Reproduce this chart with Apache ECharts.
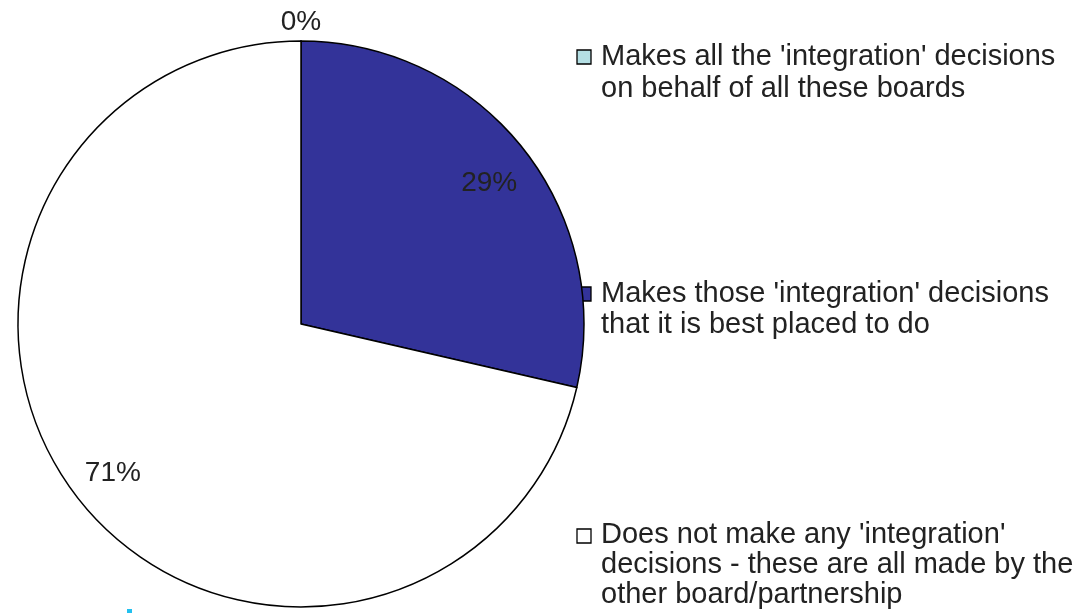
<!DOCTYPE html>
<html>
<head>
<meta charset="utf-8">
<script src="https://cdn.jsdelivr.net/npm/echarts@6/dist/echarts.min.js"></script>
<style>
html,body{margin:0;padding:0;background:#fff;}
#chart{width:1082px;height:613px;}
</style>
</head>
<body>
<div id="chart"></div>
<script>
// ---- data ----
var categories = [
  "Makes all the 'integration' decisions\non behalf of all these boards",
  "Makes those 'integration' decisions\nthat it is best placed to do",
  "Does not make any 'integration'\ndecisions - these are all made by the\nother board/partnership"
];
var values = [0, 28.6, 71.4];
var colors = ['#b4dfe4', '#333399', '#ffffff'];

// ---- layout ----
var CX = 301, CY = 324, R = 283;
var FONT = "'Liberation Sans', Arial, Helvetica, sans-serif";
var TEXT = '#222222';
var legendTop = [41, 278, 520];
var legendLH = [32, 31, 30];
var labelGap = [6, 18, 0];   // blank space above each slice label (style)

var chart = echarts.init(document.getElementById('chart'), null, {renderer: 'canvas'});

var mainData = categories.map(function (c, i) {
  return {name: c, value: values[i], itemStyle: {color: colors[i]}};
});
var innerLabelData = categories.map(function (c, i) {
  return {name: c, value: values[i], label: {show: values[i] > 0}};
});
var outerLabelData = categories.map(function (c, i) {
  return {name: c, value: values[i], label: {show: values[i] === 0}};
});

var rich = {v: {fontFamily: FONT, fontSize: 28, color: TEXT, lineHeight: 32}};
labelGap.forEach(function (g, i) {
  rich['g' + i] = {fontSize: 1, lineHeight: g, height: g};
});

var labelStyle = {
  position: 'inside',
  formatter: function (p) {
    var txt = '{v|' + p.percent + '%}';
    return labelGap[p.dataIndex] > 0 ? '{g' + p.dataIndex + '| }\n' + txt : txt;
  },
  fontFamily: FONT,
  fontSize: 28,
  color: TEXT,
  rich: rich
};

var graphics = [];
categories.forEach(function (c, i) {
  graphics.push({
    type: 'rect',
    shape: {x: 577, y: legendTop[i] + 26 - 10 - 7, width: 14, height: 14},
    style: {fill: colors[i], stroke: '#000', lineWidth: 1.3}
  });
  graphics.push({
    type: 'text',
    x: 601,
    y: legendTop[i],
    style: {
      text: c,
      font: '29px ' + FONT,
      fill: TEXT,
      lineHeight: legendLH[i],
      verticalAlign: 'top',
      align: 'left'
    }
  });
});
// small cyan mark at bottom left of the original
graphics.push({
  type: 'rect',
  shape: {x: 127, y: 609, width: 5, height: 4},
  style: {fill: '#22c0ef'}
});

chart.setOption({
  animation: false,
  backgroundColor: '#ffffff',
  series: [
    {
      type: 'pie',
      center: [CX, CY],
      radius: [0, R],
      startAngle: 90,
      clockwise: true,
      percentPrecision: 0,
      label: {show: false},
      labelLine: {show: false},
      silent: true,
      itemStyle: {borderColor: '#000', borderWidth: 1.5},
      data: mainData
    },
    {
      type: 'pie',
      center: [CX, CY],
      radius: [192, R],
      startAngle: 90,
      clockwise: true,
      percentPrecision: 0,
      silent: true,
      itemStyle: {color: 'rgba(0,0,0,0)', borderWidth: 0},
      label: labelStyle,
      labelLine: {show: false},
      data: innerLabelData
    },
    {
      type: 'pie',
      center: [CX, CY],
      radius: [R + 7, R + 31],
      startAngle: 90,
      clockwise: true,
      percentPrecision: 0,
      silent: true,
      itemStyle: {color: 'rgba(0,0,0,0)', borderWidth: 0},
      label: labelStyle,
      labelLine: {show: false},
      data: outerLabelData
    }
  ],
  graphic: graphics
});
</script>
</body>
</html>
